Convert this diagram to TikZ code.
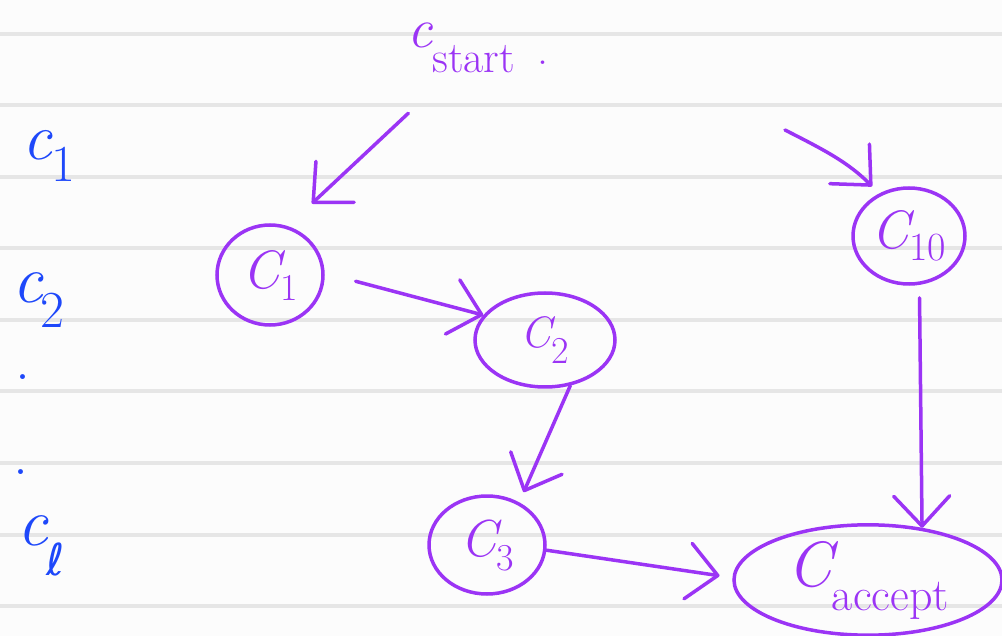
\documentclass[tikz,border=0pt]{standalone}
\usepackage{fontspec}
\newfontfamily\dvsans{DejaVu Sans}
\usetikzlibrary{shapes.geometric,arrows.meta}
\definecolor{pen}{RGB}{155,52,245}
\definecolor{bluepen}{RGB}{30,72,250}
\definecolor{rulegray}{RGB}{230,230,230}
\definecolor{paper}{RGB}{252,252,252}
\newcommand{\hw}[5]{{\fontsize{#1}{#1}\selectfont\itshape #2}\raisebox{-#5pt}{\fontsize{#3}{#3}\selectfont #4}}
\begin{document}
\begin{tikzpicture}[x=1pt,y=-1pt,
  state/.style={draw=pen, line width=3.5pt, ellipse, inner sep=0pt, text=pen},
  arr/.style={draw=pen, line width=3.5pt, line cap=round, line join=round,
    -{Straight Barb[length=30pt,width=56pt,round]}},
  bl/.style={text=bluepen, inner sep=0pt, anchor=base west},
  pl/.style={text=pen, inner sep=0pt, anchor=base west},
  ]
\fill[paper] (0,0) rectangle (1002,636);
\useasboundingbox (0,0) rectangle (1002,636);
\foreach \y in {34,105.5,177,248.5,320,391.5,463,534.5,606}
  \draw[rulegray, line width=4pt] (0,\y) -- (1002,\y);

% left labels
\node[bl] (l1) at (22,160) {{\fontsize{66}{66}\selectfont\itshape c}\raisebox{-22pt}{\fontsize{52}{52}\selectfont 1}};
\node[bl] (l2) at (12,303) {{\fontsize{68}{68}\selectfont\itshape c}\kern-2pt\raisebox{-25pt}{\fontsize{52}{52}\selectfont 2}};
\node[bl, anchor=base] (d1) at (23,380) {\fontsize{60}{60}\selectfont .};
\node[bl, anchor=base] (d2) at (21,474) {\fontsize{60}{60}\selectfont .};
\node[bl] (l3) at (17,545) {{\fontsize{68}{68}\selectfont\itshape c}\kern-1pt\raisebox{-30pt}{\fontsize{44}{44}\selectfont\dvsans ℓ}};

% start label
\node[pl] (start) at (407,48) {{\fontsize{56}{56}\selectfont\itshape c}\raisebox{-25pt}{\fontsize{44}{44}\selectfont start}\hspace{22pt}\raisebox{-17pt}{\fontsize{44}{44}\selectfont .}};

% states
\node[state, minimum width=106pt, minimum height=100pt] (c1) at (270,275) {\hw{54}{C}{38}{1}{12}};
\node[state, minimum width=140pt, minimum height=94pt] (c2) at (545,340) {\hw{44}{C}{38}{2}{16}};
\node[state, minimum width=116pt, minimum height=98pt] (c3) at (487,545) {\hw{52}{C}{38}{3}{14}};
\node[state, minimum width=112pt, minimum height=96pt] (c10) at (909,236) {\hw{54}{C}{40}{10}{12}};
\node[state, minimum width=268pt, minimum height=106pt] (cacc) at (868,580) {\hw{64}{C}{46}{accept}{24}};

% arrows
\coordinate (s10) at (785,130);
\draw[arr, shorten <=95pt, shorten >=33pt] (start.center) -- (c1.70);
\draw[arr, shorten >=10pt] (s10) to[out=-27,in=135] (c10.125);
\draw[arr, shorten <=32pt] (c1.2) -- (c2.158);
\draw[arr, shorten >=11pt] (c2.-61) -- (c3.53);
\draw[arr, shorten >=13pt] (c3.-5) -- (cacc.179);
\draw[arr, shorten <=13pt] (c10.-78) -- (cacc.44);
\end{tikzpicture}
\end{document}
